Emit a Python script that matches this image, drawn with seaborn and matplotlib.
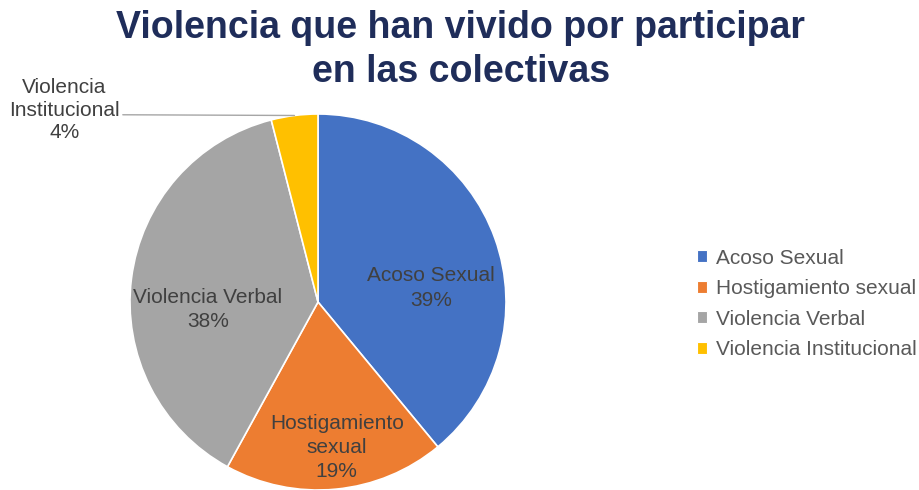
import numpy as np
import matplotlib
matplotlib.use("Agg")
import matplotlib.pyplot as plt
from matplotlib.patches import Patch
import seaborn as sns

# Data
categories = ["Acoso Sexual", "Hostigamiento sexual", "Violencia Verbal", "Violencia Institucional"]
slice_labels = ["Acoso Sexual", "Hostigamiento\nsexual", "Violencia Verbal", "Violencia\nInstitucional"]
percentages = [39, 19, 38, 4]
title_text = "Violencia que han vivido por participar\nen las colectivas"

# Style
sns.set_theme(style="white")
plt.rcParams["font.family"] = ["Liberation Sans", "DejaVu Sans"]
colors = ["#4472C4", "#ED7D31", "#A5A5A5", "#FFC000"]
label_color = "#404040"
legend_color = "#595959"
title_color = "#1F2D5A"

W, H = 919, 490
fig = plt.figure(figsize=(W / 100, H / 100), dpi=100)
fig.patch.set_facecolor("white")

# Pie axes: centre (318, 302) px, radius 188 px
cx, cy, r = 318, 302, 188
ax = fig.add_axes([(cx - r) / W, (H - cy - r) / H, 2 * r / W, 2 * r / H])

wedges, _ = ax.pie(
    percentages,
    colors=colors,
    startangle=90,
    counterclock=False,
    radius=1.0,
    wedgeprops=dict(edgecolor="white", linewidth=1.2),
)
ax.set_xlim(-1, 1)
ax.set_ylim(-1, 1)
ax.set_aspect("equal")
ax.axis("off")

# Label placement (axes data units), one per slice
label_pos = [(0.60, 0.075), (0.10, -0.775), (-0.585, -0.04), (-1.35, 1.02)]

for i, (lab, pct) in enumerate(zip(slice_labels, percentages)):
    txt = f"{lab}\n{pct}%"
    x, y = label_pos[i]
    if i == 3:
        w = wedges[i]
        mid = np.deg2rad((w.theta1 + w.theta2) / 2)
        edge = (np.cos(mid), np.sin(mid))
        ax.annotate(
            txt, xy=edge, xytext=(x, y), ha="center", va="center",
            fontsize=15, color=label_color, linespacing=1.25,
            annotation_clip=False,
            arrowprops=dict(arrowstyle="-", color="#A6A6A6", lw=1.0,
                            relpos=(1.0, 0.43), shrinkA=0, shrinkB=0),
        )
    else:
        ax.text(x, y, txt, ha="center", va="center", fontsize=15,
                color=label_color, linespacing=1.35)

# Title
fig.text(461 / W, 1 - 10 / H, title_text, ha="center", va="top",
         fontsize=27, fontweight="bold", color=title_color, linespacing=1.3)

# Legend
handles = [Patch(facecolor=c, edgecolor="white", linewidth=0.8) for c in colors]
leg = fig.legend(
    handles, categories, loc="center left",
    bbox_to_anchor=(697 / W, 1 - 304 / H),
    frameon=False, fontsize=15, handlelength=0.5, handleheight=0.5,
    handletextpad=0.4, labelspacing=0.55, borderpad=0, borderaxespad=0,
)
for t in leg.get_texts():
    t.set_color(legend_color)

fig.savefig("out.png", dpi=100, facecolor="white")
